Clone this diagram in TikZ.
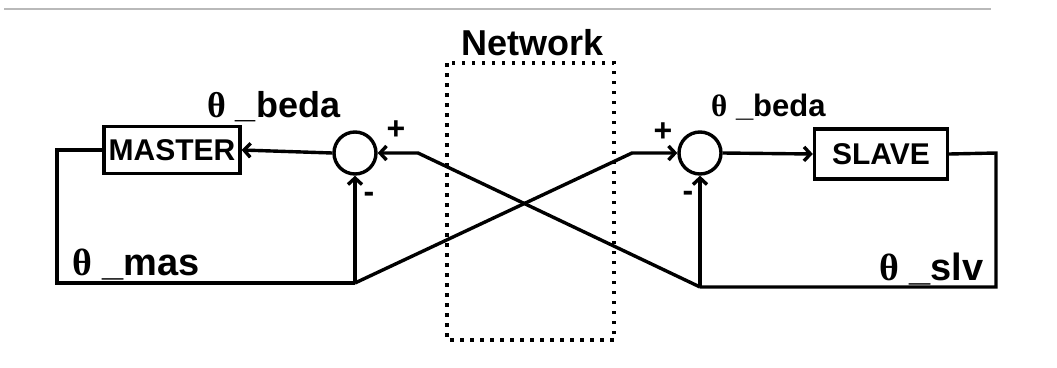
\documentclass[tikz,border=0pt]{standalone}
\usepackage{fontspec}
\setmainfont{Liberation Sans}
\newfontfamily\thetafont{Liberation Serif}
\usepackage{tikz}
\usetikzlibrary{arrows.meta,positioning,calc}

\newcommand{\thetasym}{{\thetafont θ}}

\begin{document}
\begin{tikzpicture}[x=1pt,y=-1pt,>={Straight Barb[length=6.5pt,width=14pt]},
    wire/.style={line width=3.4pt},
    block/.style={draw, line width=3.4pt, inner sep=0pt, font=\fontsize{30}{30}\selectfont\bfseries},
    sum/.style={draw, circle, line width=3.4pt, minimum size=42pt, inner sep=0pt},
    sign/.style={font=\fontsize{32}{32}\selectfont\bfseries, inner sep=0pt},
    lbl/.style={anchor=base west, inner sep=0pt, font=\bfseries}]
  \useasboundingbox (0,0) rectangle (1057,367);
  \draw[gray!55, line width=1.5pt] (4,9) -- (991,9);
  % network cloud in the middle
  \draw[line width=3.5pt, dash pattern=on 3.5pt off 6.5pt] (447,63) rectangle (614,340);
  \node[anchor=base, inner sep=0pt, font=\fontsize{36}{36}\selectfont\bfseries] (net) at (533,55) {Network};
  % master and slave loops
  \node[block, minimum width=136pt, minimum height=47pt] (master) at (172,150) {MASTER};
  \node[block, minimum width=133pt, minimum height=50pt] (slave) at (881,154) {SLAVE};
  \node[sum] (sumL) at (355,153) {};
  \node[sum] (sumR) at (700,153) {};
  \coordinate (cLa) at (57,150);
  \coordinate (cLb) at (57,283);
  \coordinate (mL) at (355,283);
  \coordinate (inR) at (632,153);
  \coordinate (cRa) at (996,153);
  \coordinate (cRb) at (996,287);
  \coordinate (mR) at (700,287);
  \coordinate (inL) at (418,153);
  \draw[wire] (master.west) -- (cLa) -- (cLb) -- (mL);
  \draw[wire,->] (mL) -- (sumL.south);
  \draw[wire,->] (mL) -- (inR) -- (sumR.west);
  \draw[wire] (slave.east) -- (cRa) -- (cRb) -- (mR);
  \draw[wire,->] (mR) -- (sumR.south);
  \draw[wire,->] (mR) -- (inL) -- (sumL.east);
  \draw[wire,->] (sumL.west) -- (master.east);
  \draw[wire,->] (sumR.east) -- (slave.west);
  % signs and signal names
  \node[sign] (pL) at (396,130) {+};
  \node[sign] (nL) at (369,197) {-};
  \node[sign] (pR) at (663,132) {+};
  \node[sign] (nR) at (688,196) {-};
  \node[lbl, font=\fontsize{36}{36}\selectfont\bfseries] (errL) at (207,117) {\thetasym\ \_beda};
  \node[lbl, font=\fontsize{31}{31}\selectfont\bfseries] (errR) at (711,116) {\thetasym\ \_beda};
  \node[lbl, font=\fontsize{38}{38}\selectfont\bfseries] (posM) at (72,275) {\thetasym\ \_mas};
  \node[lbl, font=\fontsize{38}{38}\selectfont\bfseries] (posS) at (879,280) {\thetasym\ \_slv};
\end{tikzpicture}
\end{document}
